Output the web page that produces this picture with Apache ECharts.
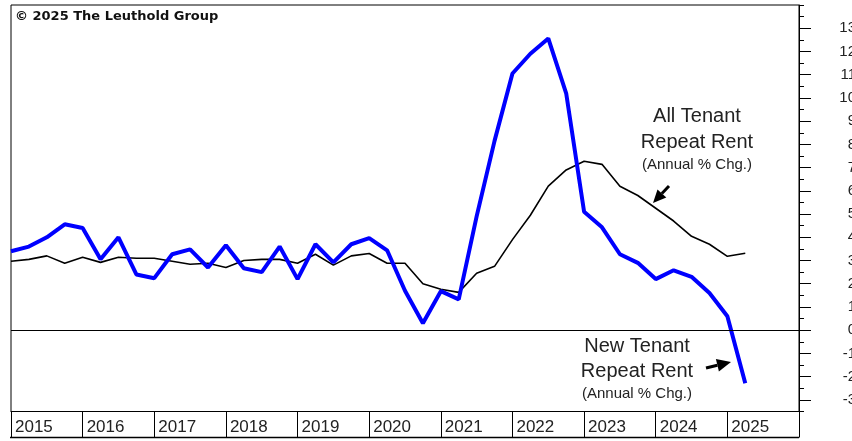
<!DOCTYPE html>
<html>
<head>
<meta charset="utf-8">
<script src="https://cdn.jsdelivr.net/npm/echarts@6/dist/echarts.min.js"></script>
<style>
    html, body { margin: 0; padding: 0; background: #fff; }
    #main { width: 852px; height: 441px; }
</style>
</head>
<body>
<div id="main"></div>
<script>
// quarterly, 2015 Q1 .. 2025 Q2
let startYear = 2015;
let newTenant = [3.4, 3.6, 4.0, 4.56, 4.4, 3.05, 4.0, 2.4, 2.24, 3.27, 3.48, 2.7, 3.66, 2.67, 2.5, 3.6,
    2.2, 3.7, 2.92, 3.7, 3.96, 3.44, 1.7, 0.3, 1.68, 1.33, 4.9, 8.15, 11.05, 11.9, 12.56, 10.2,
    5.1, 4.43, 3.27, 2.9, 2.2, 2.58, 2.3, 1.6, 0.6, -2.28];
let allTenant = [2.97, 3.05, 3.2, 2.88, 3.14, 2.92, 3.14, 3.1, 3.1, 2.97, 2.84, 2.88, 2.7, 3.0, 3.05, 3.05,
    2.88, 3.27, 2.8, 3.2, 3.3, 2.88, 2.88, 2.0, 1.76, 1.63, 2.45, 2.75, 3.9, 4.95, 6.2, 6.9,
    7.27, 7.14, 6.2, 5.8, 5.25, 4.7, 4.04, 3.7, 3.18, 3.31];
let yearLabels = [2015, 2016, 2017, 2018, 2019, 2020, 2021, 2022, 2023, 2024, 2025];
let rightTicks = [-3, -2, -1, 0, 1, 2, 3, 4, 5, 6, 7, 8, 9, 10, 11, 12, 13];

function toPoints(vals) {
    let pts = [];
    for (let i = 0; i < vals.length; i = i + 1) {
        pts.push([startYear + i / 4, vals[i]]);
    }
    return pts;
}

function drawChart() {
    let myChart = echarts.init(document.getElementById("main"), null, { renderer: "canvas" });
    let txt = "#222";
    let font = "Liberation Sans, Arial, sans-serif";

    let option = {
        backgroundColor: "#fff",
        animation: false,
        grid: {
            left: 11, right: 53, top: 5, bottom: 29.5,
            outerBoundsMode: "none",
            containLabel: false,
            show: true, borderColor: "#000", borderWidth: 1
        },
        xAxis: {
            type: "value",
            min: 2015,
            max: 2026,
            interval: 1,
            axisLine: { show: true, onZero: false, lineStyle: { color: "#000", width: 1 } },
            axisTick: { show: true, length: 26, lineStyle: { color: "#000", width: 1 } },
            axisLabel: {
                formatter: function (v) { return yearLabels.indexOf(v) >= 0 ? String(v) : ""; },
                align: "left",
                padding: [0, 0, 0, 4],
                margin: 7,
                fontSize: 17,
                fontFamily: font,
                color: txt,
                showMaxLabel: true
            },
            splitLine: { show: false }
        },
        yAxis: [
            {
                type: "value",
                position: "right",
                min: -3.5,
                max: 14,
                interval: 0.5,
                axisLine: { show: true, lineStyle: { color: "#000", width: 1 } },
                axisTick: { show: true, length: 5, lineStyle: { color: "#000" } },
                axisLabel: { show: false },
                splitLine: { show: false }
            },
            {
                type: "value",
                position: "right",
                min: -3.5,
                max: 14,
                axisLine: { show: false },
                axisTick: { show: true, length: 12, customValues: rightTicks, lineStyle: { color: "#000" } },
                axisLabel: {
                    customValues: rightTicks,
                    align: "right",
                    margin: 57,
                    padding: [7, 0, 0, 0],
                    fontSize: 15,
                    fontFamily: font,
                    color: txt
                },
                splitLine: { show: false }
            }
        ],
        series: [
            {
                name: "All Tenant",
                type: "line",
                data: toPoints(allTenant),
                showSymbol: false,
                lineStyle: { color: "#000", width: 1.6 },
                z: 3,
                markLine: {
                    silent: true,
                    symbol: ["none", "none"],
                    label: { show: false },
                    lineStyle: { color: "#000", width: 1, type: "solid" },
                    data: [{ yAxis: 0 }]
                }
            },
            {
                name: "New Tenant",
                type: "line",
                data: toPoints(newTenant),
                showSymbol: false,
                lineStyle: { color: "#0000ff", width: 4 },
                z: 4
            }
        ],
        graphic: [
            {
                type: "text", left: 15, top: 10,
                style: { text: "© 2025 The Leuthold Group", font: "bold 13px DejaVu Sans", fill: "#111" }
            },
            {
                type: "text", x: 697, y: 116,
                style: { text: "All Tenant", font: "20px " + font, fill: txt, align: "center", verticalAlign: "middle" }
            },
            {
                type: "text", x: 697, y: 142,
                style: { text: "Repeat Rent", font: "20px " + font, fill: txt, align: "center", verticalAlign: "middle" }
            },
            {
                type: "text", x: 697, y: 165,
                style: { text: "(Annual % Chg.)", font: "15px " + font, fill: txt, align: "center", verticalAlign: "middle" }
            },
            {
                type: "text", x: 637, y: 346,
                style: { text: "New Tenant", font: "20px " + font, fill: txt, align: "center", verticalAlign: "middle" }
            },
            {
                type: "text", x: 637, y: 371,
                style: { text: "Repeat Rent", font: "20px " + font, fill: txt, align: "center", verticalAlign: "middle" }
            },
            {
                type: "text", x: 637, y: 394,
                style: { text: "(Annual % Chg.)", font: "15px " + font, fill: txt, align: "center", verticalAlign: "middle" }
            },
            // arrow to the black line
            {
                type: "line",
                shape: { x1: 661.9, y1: 193.5, x2: 669, y2: 186 },
                style: { stroke: "#000", lineWidth: 3 }
            },
            {
                type: "polygon",
                shape: { points: [[653, 203], [666.3, 197.6], [657.5, 189.4]] },
                style: { fill: "#000" }
            },
            // arrow to the blue line
            {
                type: "line",
                shape: { x1: 706, y1: 368, x2: 717.4, y2: 365.3 },
                style: { stroke: "#000", lineWidth: 3 }
            },
            {
                type: "polygon",
                shape: { points: [[731, 362], [718.9, 371.6], [715.9, 359.0]] },
                style: { fill: "#000" }
            },
            // bottom edge of the year row
            {
                type: "line",
                shape: { x1: 10, y1: 437.5, x2: 799, y2: 437.5 },
                style: { stroke: "#000", lineWidth: 1.5 }
            }
        ]
    };

    myChart.setOption(option);
}

drawChart();
</script>
</body>
</html>
